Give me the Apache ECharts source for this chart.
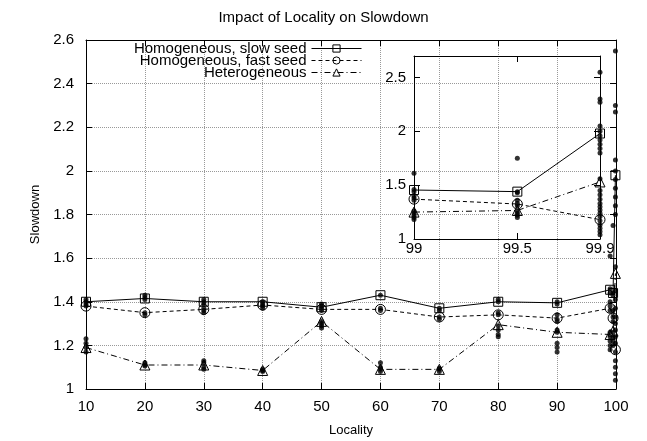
<!DOCTYPE html>
<html>
<head>
<meta charset="utf-8">
<script src="https://cdn.jsdelivr.net/npm/echarts@6/dist/echarts.min.js"></script>
<style>
  html, body { margin: 0; background: #fff; }
  #chart { width: 647px; height: 441px; }
</style>
</head>
<body>
<div id="chart"></div>
<script>
  // x positions of the measured points
  const localities = [10, 20, 30, 40, 50, 60, 70, 80, 90, 99, 99.5, 99.9];

  // mean slowdown per locality
  const slowSeed = [1.40, 1.415, 1.40, 1.40, 1.375, 1.43, 1.37, 1.40, 1.395, 1.455, 1.44, 1.98];
  const fastSeed = [1.38, 1.35, 1.365, 1.385, 1.365, 1.365, 1.33, 1.34, 1.325, 1.37, 1.325, 1.18];
  const heterogeneous = [1.19, 1.11, 1.11, 1.085, 1.31, 1.09, 1.09, 1.295, 1.26, 1.25, 1.265, 1.53];

  // single runs behind the means (small dots), one list per locality
  const runs = [
    [1.41, 1.40, 1.39, 1.38, 1.23, 1.21, 1.19, 1.17],
    [1.43, 1.42, 1.41, 1.35, 1.34, 1.12, 1.11, 1.105],
    [1.41, 1.40, 1.39, 1.37, 1.36, 1.35, 1.13, 1.12, 1.10, 1.09],
    [1.40, 1.39, 1.38, 1.37, 1.09, 1.085, 1.08],
    [1.39, 1.38, 1.37, 1.36, 1.31, 1.30, 1.29, 1.28],
    [1.43, 1.37, 1.36, 1.12, 1.10, 1.09, 1.08],
    [1.37, 1.36, 1.33, 1.32, 1.095, 1.09, 1.08],
    [1.41, 1.40, 1.35, 1.34, 1.29, 1.27, 1.25, 1.24],
    [1.40, 1.39, 1.34, 1.32, 1.31, 1.27, 1.26, 1.21, 1.19, 1.17],
    [1.61, 1.46, 1.44, 1.40, 1.38, 1.36, 1.26, 1.24, 1.22, 1.20, 1.18],
    [1.75, 1.44, 1.43, 1.36, 1.33, 1.31, 1.26, 1.24, 1.22, 1.20],
    [2.55, 2.30, 2.27, 2.05, 2.00, 1.96, 1.92, 1.88, 1.84, 1.80, 1.56, 1.45, 1.41, 1.37,
     1.33, 1.30, 1.27, 1.24, 1.21, 1.17, 1.13, 1.10, 1.07, 1.04],
  ];

  const insetXTicks = [99, 99.5, 99.9];
  const insetYTicks = [1, 1.5, 2, 2.5];

  const font = 'Liberation Sans, Arial, sans-serif';
  const chart = echarts.init(document.getElementById('chart'), null, { renderer: 'canvas' });

  const pairs = (ys, from) => localities.map((x, i) => [x, ys[i]]).filter((p) => p[0] >= from);
  const runPairs = (from) => {
    const out = [];
    localities.forEach((x, i) => {
      if (x >= from) runs[i].forEach((v) => out.push([x, v]));
    });
    return out;
  };

  const lineDefs = [
    { name: 'Homogeneous, slow seed', data: slowSeed, symbol: 'rect', size: 9, dash: 'solid' },
    { name: 'Homogeneous, fast seed', data: fastSeed, symbol: 'circle', size: 10, dash: [4, 3] },
    { name: 'Heterogeneous', data: heterogeneous, symbol: 'triangle', size: 10, dash: [6, 3, 1, 3] },
  ];

  const makeLines = (gridIdx, from) => lineDefs.map((d) => ({
    name: d.name,
    type: 'line',
    xAxisIndex: gridIdx * 2,
    yAxisIndex: gridIdx * 2,
    data: pairs(d.data, from),
    symbol: d.symbol,
    symbolSize: d.size,
    showAllSymbol: true,
    animation: false,
    z: 3,
    itemStyle: { color: 'rgba(0,0,0,0)', borderColor: '#000', borderWidth: 1 },
    lineStyle: { color: '#000', width: 1, type: d.dash },
    emphasis: { disabled: true },
  }));

  const makeRuns = (gridIdx, from) => ({
    name: 'runs',
    type: 'scatter',
    xAxisIndex: gridIdx * 2,
    yAxisIndex: gridIdx * 2,
    data: runPairs(from),
    symbolSize: 5,
    itemStyle: { color: '#000' },
    animation: false,
    silent: true,
    z: 2,
  });

  const tickStyle = { show: true, inside: true, length: 6, lineStyle: { color: '#000', width: 1 } };
  const axisLine = { show: true, onZero: false, lineStyle: { color: '#000', width: 1 } };
  const labelStyle = { color: '#000', fontSize: 15, fontFamily: font };
  const gridLine = { show: true, lineStyle: { color: '#999', type: 'dotted', width: 1 } };

  const option = {
    backgroundColor: '#fff',
    title: {
      text: 'Impact of Locality on Slowdown',
      left: 'center',
      top: 5,
      textStyle: { fontSize: 15, fontWeight: 'normal', color: '#000', fontFamily: font },
    },
    legend: lineDefs.map((d, i) => ({
      data: [d.name],
      right: 285,
      top: 41 + i * 12,
      padding: 0,
      align: 'right',
      itemWidth: 50,
      itemHeight: 9,
      selectedMode: false,
      lineStyle: { width: 1 },
      itemStyle: { borderWidth: 1 },
      textStyle: { color: '#000', fontSize: 15, fontFamily: font },
    })),
    grid: [
      { left: 86, top: 40, width: 530, height: 349, outerBoundsMode: 'none' },
      { left: 414, top: 56, width: 186, height: 183, outerBoundsMode: 'none' },
    ],
    xAxis: [
      {
        gridIndex: 0, type: 'value', min: 10, max: 100, interval: 10, position: 'bottom',
        axisLine, axisTick: tickStyle,
        axisLabel: { ...labelStyle, margin: 10 },
        splitLine: gridLine,
        name: 'Locality', nameLocation: 'middle', nameGap: 35,
        nameTextStyle: { color: '#000', fontSize: 13, fontFamily: font },
      },
      {
        gridIndex: 0, type: 'value', min: 10, max: 100, interval: 10, position: 'top',
        axisLine, axisTick: tickStyle, axisLabel: { show: false }, splitLine: { show: false },
      },
      {
        gridIndex: 1, type: 'value', min: 99, max: 99.9, position: 'bottom',
        axisLine, axisTick: { ...tickStyle, customValues: insetXTicks },
        axisLabel: { ...labelStyle, margin: 2, customValues: insetXTicks },
        splitLine: { show: false },
      },
      {
        gridIndex: 1, type: 'value', min: 99, max: 99.9, position: 'top',
        axisLine, axisTick: { ...tickStyle, customValues: insetXTicks },
        axisLabel: { show: false }, splitLine: { show: false },
      },
    ],
    yAxis: [
      {
        gridIndex: 0, type: 'value', min: 1, max: 2.6, interval: 0.2, position: 'left',
        axisLine, axisTick: tickStyle,
        axisLabel: { ...labelStyle, margin: 12 },
        splitLine: gridLine,
        name: 'Slowdown', nameLocation: 'middle', nameGap: 44, nameRotate: 90,
        nameTextStyle: { color: '#000', fontSize: 13, fontFamily: font },
      },
      {
        gridIndex: 0, type: 'value', min: 1, max: 2.6, interval: 0.2, position: 'right',
        axisLine, axisTick: tickStyle, axisLabel: { show: false }, splitLine: { show: false },
      },
      {
        gridIndex: 1, type: 'value', min: 1, max: 2.7, position: 'left',
        axisLine, axisTick: { ...tickStyle, customValues: insetYTicks },
        axisLabel: { ...labelStyle, margin: 8, customValues: insetYTicks },
        splitLine: { show: false },
      },
      {
        gridIndex: 1, type: 'value', min: 1, max: 2.7, position: 'right',
        axisLine, axisTick: { ...tickStyle, customValues: insetYTicks },
        axisLabel: { show: false }, splitLine: { show: false },
      },
    ],
    series: [
      makeRuns(0, 0),
      ...makeLines(0, 0),
      makeRuns(1, 99),
      ...makeLines(1, 99),
    ],
  };

  chart.setOption(option);
</script>
</body>
</html>
